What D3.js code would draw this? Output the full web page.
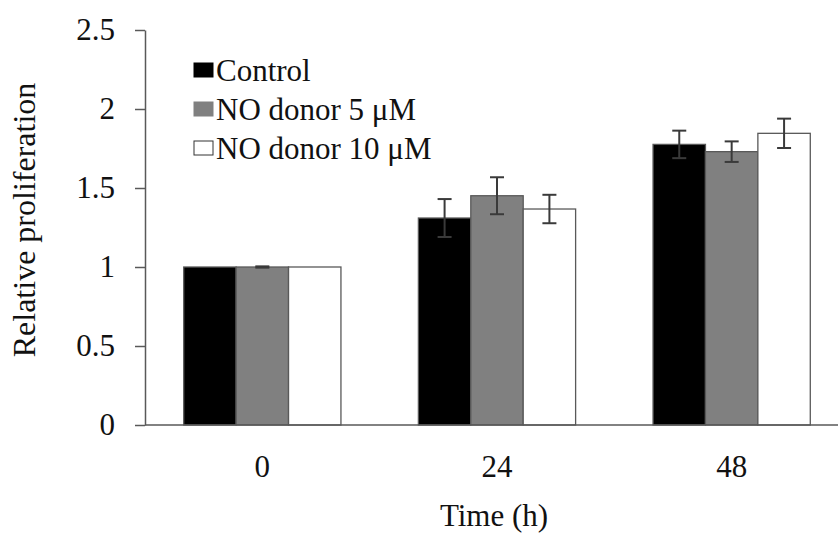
<!DOCTYPE html>
<html>
<head>
<meta charset="utf-8">
<script src="https://cdn.jsdelivr.net/npm/d3@7"></script>
<style>
  html, body { margin: 0; padding: 0; background: #fff; }
  #chart { width: 838px; height: 534px; }
  svg text { font-family: "Liberation Serif", Tinos, "Times New Roman", Times, serif !important; fill: #111; }
</style>
</head>
<body>
<div id="chart"></div>
<script>
// 데이터
const categories = ["0", "24", "48"];
const seriesNames = ["Control", "NO donor 5 \u03bcM", "NO donor 10 \u03bcM"];
const controlVals = [1.0, 1.31, 1.776];
const donor5Vals = [1.0, 1.451, 1.73];
const donor10Vals = [1.0, 1.367, 1.846];
const controlErr = [0, 0.12, 0.087];
const donor5Err = [0.004, 0.117, 0.065];
const donor10Err = [0, 0.09, 0.093];
const yTicks = [0, 0.5, 1, 1.5, 2, 2.5];

(() => {
  const fills = ["#000000", "#808080", "#ffffff"];
  const AXIS = "#595959";
  const FS = 31;

  const series = [
    { name: seriesNames[0], vals: controlVals, err: controlErr, fill: fills[0] },
    { name: seriesNames[1], vals: donor5Vals, err: donor5Err, fill: fills[1] },
    { name: seriesNames[2], vals: donor10Vals, err: donor10Err, fill: fills[2] },
  ];

  const W = 838, H = 534;
  const svg = d3.select("#chart").append("svg")
    .attr("width", W).attr("height", H)
    .attr("viewBox", `0 0 ${W} ${H}`);

  const plotLeft = 145, plotTop = 30, plotBottom = 425;

  // 스케일 (오른쪽은 잘려 나감)
  const x = d3.scaleBand().domain(categories).range([plotLeft, 849]).paddingInner(0.33).paddingOuter(0.165);
  const xs = d3.scaleBand().domain(d3.range(series.length)).range([0, x.bandwidth()]);
  const y = d3.scaleLinear().domain([0, 2.5]).range([plotBottom, plotTop]);

  // 막대
  series.forEach((s, si) => {
    svg.append("g").selectAll("rect")
      .data(categories)
      .join("rect")
      .attr("x", (c) => x(c) + xs(si))
      .attr("y", (c, i) => y(s.vals[i]))
      .attr("width", xs.bandwidth())
      .attr("height", (c, i) => y(0) - y(s.vals[i]))
      .attr("fill", s.fill)
      .attr("stroke", AXIS)
      .attr("stroke-width", 1.3);
  });

  // 오차 막대
  series.forEach((s, si) => {
    const g = svg.append("g").attr("stroke", "#3a3a3a").attr("stroke-width", 2);
    categories.forEach((c, i) => {
      if (!s.err[i]) return;
      const cx = x(c) + xs(si) + xs.bandwidth() / 2;
      const y1 = y(s.vals[i] + s.err[i]), y2 = y(s.vals[i] - s.err[i]);
      g.append("line").attr("x1", cx).attr("x2", cx).attr("y1", y1).attr("y2", y2);
      g.append("line").attr("x1", cx - 7).attr("x2", cx + 7).attr("y1", y1).attr("y2", y1);
      g.append("line").attr("x1", cx - 7).attr("x2", cx + 7).attr("y1", y2).attr("y2", y2);
    });
  });

  // Y축
  const yAxis = svg.append("g")
    .attr("transform", `translate(${plotLeft},0)`)
    .call(d3.axisLeft(y).tickValues(yTicks).tickSize(10).tickSizeOuter(0).tickPadding(20).tickFormat(d3.format("")));
  yAxis.select(".domain").attr("stroke", AXIS).attr("stroke-width", 1.5);
  yAxis.selectAll(".tick line").attr("stroke", AXIS).attr("stroke-width", 1.5);
  yAxis.selectAll(".tick text").attr("font-size", FS).attr("fill", "#111");

  // X축
  svg.append("line")
    .attr("x1", plotLeft).attr("x2", W).attr("y1", y(0)).attr("y2", y(0))
    .attr("stroke", AXIS).attr("stroke-width", 1.5);
  svg.append("g").selectAll("text")
    .data(categories)
    .join("text")
    .attr("x", (c) => x(c) + x.bandwidth() / 2)
    .attr("y", y(0) + 41)
    .attr("dy", "0.35em")
    .attr("text-anchor", "middle")
    .attr("font-size", FS)
    .text((c) => c);

  // 축 제목
  svg.append("text")
    .attr("x", 494).attr("y", 515).attr("dy", "0.35em")
    .attr("text-anchor", "middle").attr("font-size", FS)
    .text("Time (h)");
  svg.append("text")
    .attr("transform", "translate(24,220) rotate(-90)")
    .attr("dy", "0.35em")
    .attr("text-anchor", "middle").attr("font-size", FS + 1)
    .text("Relative  proliferation");

  // 범례
  const legend = svg.append("g").attr("transform", "translate(194,70)");
  series.forEach((s, i) => {
    const row = legend.append("g").attr("transform", `translate(0,${i * 39})`);
    row.append("rect")
      .attr("x", 0).attr("y", -7).attr("width", 19).attr("height", 14)
      .attr("fill", s.fill).attr("stroke", s.fill === "#ffffff" ? "#333" : s.fill).attr("stroke-width", 1);
    row.append("text")
      .attr("x", 22).attr("y", 0).attr("dy", "0.35em")
      .attr("font-size", FS)
      .text(s.name);
  });
})();
</script>
</body>
</html>
